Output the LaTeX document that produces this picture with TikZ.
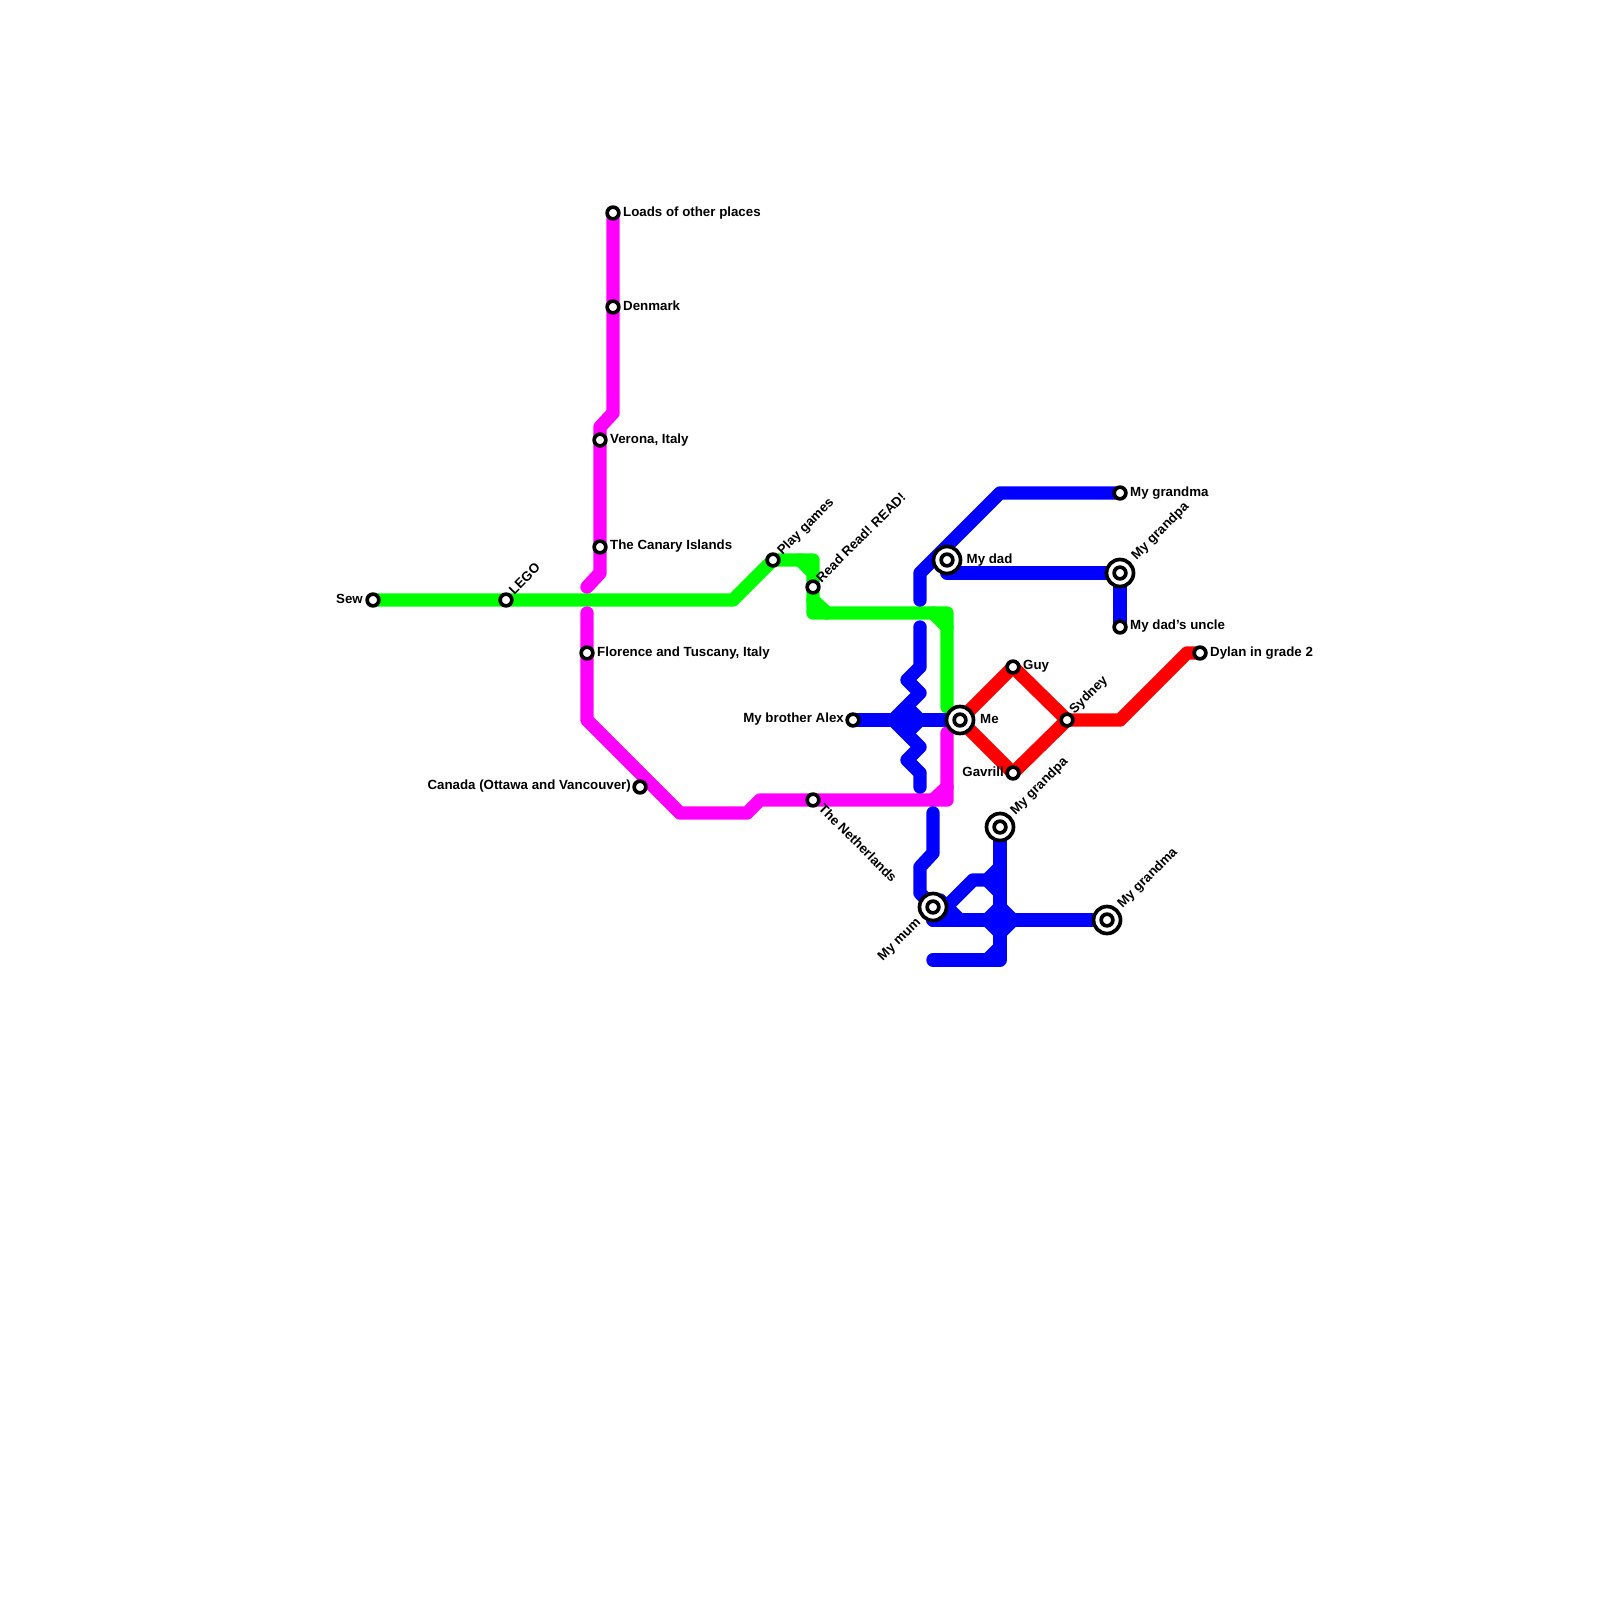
\documentclass[tikz,border=0pt]{standalone}
\usepackage{fontspec}
\setmainfont{Liberation Sans}
\pgfdeclarelayer{bg}
\pgfsetlayers{bg,main}
\definecolor{lgreen}{RGB}{0,255,0}
\definecolor{lblue}{RGB}{0,0,255}
\definecolor{lmag}{RGB}{255,0,255}
\definecolor{lred}{RGB}{255,0,0}
\tikzset{
  x=1pt,y=-1pt,
  stn/.style={circle,draw=black,fill=white,line width=3.7pt,minimum size=11.7pt,inner sep=0pt},
  bigstn/.style={circle,draw=black,fill=white,line width=3.7pt,minimum size=27pt,inner sep=0pt,
    path picture={\draw[line width=3.7pt] (path picture bounding box.center) circle (5.85pt);}},
  route/.style={line width=13.4pt,line cap=round,line join=round},
  txt/.style={font=\bfseries\fontsize{13.3}{13.3}\selectfont,text=black,inner sep=0pt},
  lblr/.style={txt,anchor=west},
  lbll/.style={txt,anchor=east},
  lblup/.style={txt,anchor=west,rotate=45},
  lbldn/.style={txt,anchor=west,rotate=-45},
  lbllow/.style={txt,anchor=east,rotate=45}
}
\begin{document}
\begin{tikzpicture}
\useasboundingbox (0,0) rectangle (1600,1600);
% stations
\node[stn] (sew) at (373,600) {};
\node[stn] (lego) at (506,600) {};
\node[stn] (loads) at (613,213) {};
\node[stn] (denmark) at (613,307) {};
\node[stn] (verona) at (600,440) {};
\node[stn] (canary) at (600,547) {};
\node[stn] (florence) at (587,653) {};
\node[stn] (canada) at (640,787) {};
\node[stn] (nether) at (813,800) {};
\node[stn] (play) at (773,560) {};
\node[stn] (read) at (813,587) {};
\node[stn] (alex) at (853,720) {};
\node[bigstn] (me) at (960,720) {};
\node[stn] (guy) at (1013,667) {};
\node[stn] (gavrill) at (1013,773) {};
\node[stn] (sydney) at (1067,720) {};
\node[stn] (dylan) at (1200,653) {};
\node[bigstn] (dad) at (947,560) {};
\node[bigstn] (gpa1) at (1120,573) {};
\node[stn] (gma1) at (1120,493) {};
\node[stn] (uncle) at (1120,627) {};
\node[bigstn] (mum) at (933,907) {};
\node[bigstn] (gpa2) at (1000,827) {};
\node[bigstn] (gma2) at (1107,920) {};
% free line ends
\coordinate (gEnd) at (947,707);
\coordinate (mEndA) at (587,587);
\coordinate (mStartB) at (587,613);
\coordinate (mEndB) at (947,733);
\coordinate (bEndA) at (920,600);
\coordinate (bTop) at (920,627);
\coordinate (bBot) at (920,787);
\coordinate (bLow) at (933,813);
\coordinate (bStub) at (933,960);
% labels
\node[lbll] (t1) at (363,599) {Sew};
\node[lblup] (t2) at (511,592) {LEGO};
\node[lblr] (t3) at (623,213) {Loads of other places};
\node[lblr] (t4) at (623,306) {Denmark};
\node[lblr] (t5) at (610,440) {Verona, Italy};
\node[lblr] (t6) at (610,546) {The Canary Islands};
\node[lblr] (t7) at (597,653) {Florence and Tuscany, Italy};
\node[lbll] (t8) at (631,786) {Canada (Ottawa and Vancouver)};
\node[lbldn] (t9) at (821,806) {The Netherlands};
\node[lblup] (t10) at (780,553) {Play games};
\node[lblup] (t11) at (818,580) {Read Read! READ!};
\node[lbll] (t12) at (844,719) {My brother Alex};
\node[lblr] (t13) at (980,719) {Me};
\node[lblr] (t14) at (1023,666) {Guy};
\node[lbll] (t15) at (1004,772) {Gavrill};
\node[lblup] (t16) at (1072,712) {Sydney};
\node[lblr] (t17) at (1210,653) {Dylan in grade 2};
\node[lblr] (t18) at (966.5,560) {My dad};
\node[lblup] (t19) at (1134,558) {My grandpa};
\node[lblr] (t20) at (1130,493) {My grandma};
\node[lblr] (t21) at (1130,626.5) {My dad's uncle};
\node[lbllow] (t22) at (919,921) {My mum};
\node[lblup] (t23) at (1013,813) {My grandpa};
\node[lblup] (t24) at (1120,906) {My grandma};
% routes
\begin{pgfonlayer}{bg}
\fill[white] (0,0) rectangle (1600,1600);
\draw[route,lred] (me.center) -- (guy.center) -- (sydney.center) -- (1120,720) -- (1187,653) -- (dylan.center);
\draw[route,lred] (me.center) -- (gavrill.center) -- (sydney.center);
\draw[route,lgreen] (sew.center) -- (lego.center) -- (733,600) -- (play.center) -- (813,560) -- (read.center) -- (813,613) -- (947,613) -- (gEnd);
\draw[route,lgreen] (800,560) -- (813,573);
\draw[route,lgreen] (813,600) -- (827,613);
\draw[route,lgreen] (933,613) -- (947,627);
\draw[route,lmag] (loads.center) -- (denmark.center) -- (613,413) -- (600,427) -- (verona.center) -- (canary.center) -- (600,573) -- (mEndA);
\draw[route,lmag] (mStartB) -- (florence.center) -- (587,720) -- (680,813) -- (747,813) -- (760,800) -- (nether.center) -- (947,800) -- (mEndB);
\draw[route,lmag] (933,800) -- (947,787);
\draw[route,lblue] (gma1.center) -- (1000,493) -- (920,573) -- (bEndA);
\draw[route,lblue] (dad.center) -- (947,573) -- (gpa1.center) -- (uncle.center);
\draw[route,lblue] (alex.center) -- (me.center);
\draw[route,lblue] (bTop) -- (920,667) -- (907,680) -- (920,693) -- (893,720) -- (920,747) -- (907,760) -- (920,773) -- (bBot);
\draw[route,lblue] (907,707) -- (920,720) -- (907,733) -- cycle;
\draw[route,lblue] (bLow) -- (933,853) -- (920,867) -- (920,893) -- (mum.center);
\draw[route,lblue] (mum.center) -- (933,920) -- (gma2.center);
\draw[route,lblue] (gpa2.center) -- (1000,960) -- (bStub);
\draw[route,lblue] (1000,947) -- (987,960);
\draw[route,lblue] (933,920) -- (973,880) -- (987,880) -- (1000,867);
\draw[route,lblue] (987,880) -- (1000,893);
\draw[route,lblue] (1000,907) -- (1013,920) -- (1000,933) -- (987,920) -- cycle;
\draw[route,lblue] (940,900) -- (960,920);
\end{pgfonlayer}
\end{tikzpicture}
\end{document}
